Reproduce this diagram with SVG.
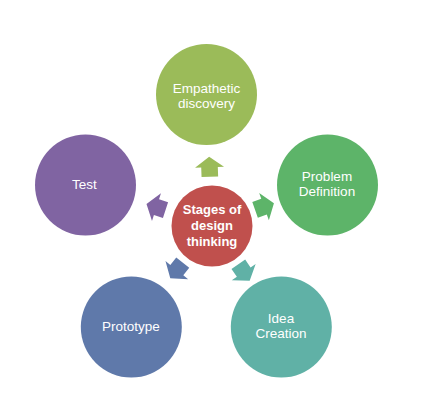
<svg xmlns="http://www.w3.org/2000/svg" width="423" height="411" viewBox="0 0 423 411">
<defs>
<style>
.lbl{font-family:"Liberation Sans","Noto Sans",Arial,sans-serif;font-size:13.5px;fill:#ffffff;text-anchor:middle}
.bold{font-weight:bold;font-size:13px}
</style>
<path id="arr" d="M-10,-8.3 L-0.5,-8.3 L-0.5,-14.5 L10,0 L-0.5,14.5 L-0.5,8.3 L-10,8.3 Z"/>
</defs>
<rect width="423" height="411" fill="#ffffff"/>
<g id="connectors">
<use href="#arr" fill="#9BBB59" transform="translate(209.5,166.7) rotate(-92)"/>
<use href="#arr" fill="#5DB469" transform="translate(264.5,206.5) rotate(-19.5)"/>
<use href="#arr" fill="#60B1A6" transform="translate(244,272.5) rotate(55.5)"/>
<use href="#arr" fill="#5F79AA" transform="translate(176.5,270.5) rotate(128.6)"/>
<use href="#arr" fill="#8064A2" transform="translate(156,207) rotate(198)"/>
</g>
<g id="center">
<circle cx="212" cy="226" r="40.5" fill="#C0504D"/>
<text class="lbl bold" x="212" y="213.5">Stages of</text>
<text class="lbl bold" x="212" y="229.5">design</text>
<text class="lbl bold" x="212" y="245.5">thinking</text>
</g>
<g id="empathetic">
<circle cx="206.5" cy="94.5" r="50.5" fill="#9BBB59"/>
<text class="lbl" x="206.5" y="92.5">Empathetic</text>
<text class="lbl" x="206.5" y="107.5">discovery</text>
</g>
<g id="problem">
<circle cx="327.5" cy="185" r="50.5" fill="#5DB469"/>
<text class="lbl" x="327" y="180.5">Problem</text>
<text class="lbl" x="327" y="195.5">Definition</text>
</g>
<g id="idea">
<circle cx="281.3" cy="327" r="50.5" fill="#60B1A6"/>
<text class="lbl" x="281" y="323.3">Idea</text>
<text class="lbl" x="281" y="338.3">Creation</text>
</g>
<g id="prototype">
<circle cx="131.3" cy="327" r="50.5" fill="#5F79AA"/>
<text class="lbl" x="131" y="331">Prototype</text>
</g>
<g id="test">
<circle cx="85.5" cy="185" r="50.5" fill="#8064A2"/>
<text class="lbl" x="84.5" y="188.5">Test</text>
</g>
</svg>
